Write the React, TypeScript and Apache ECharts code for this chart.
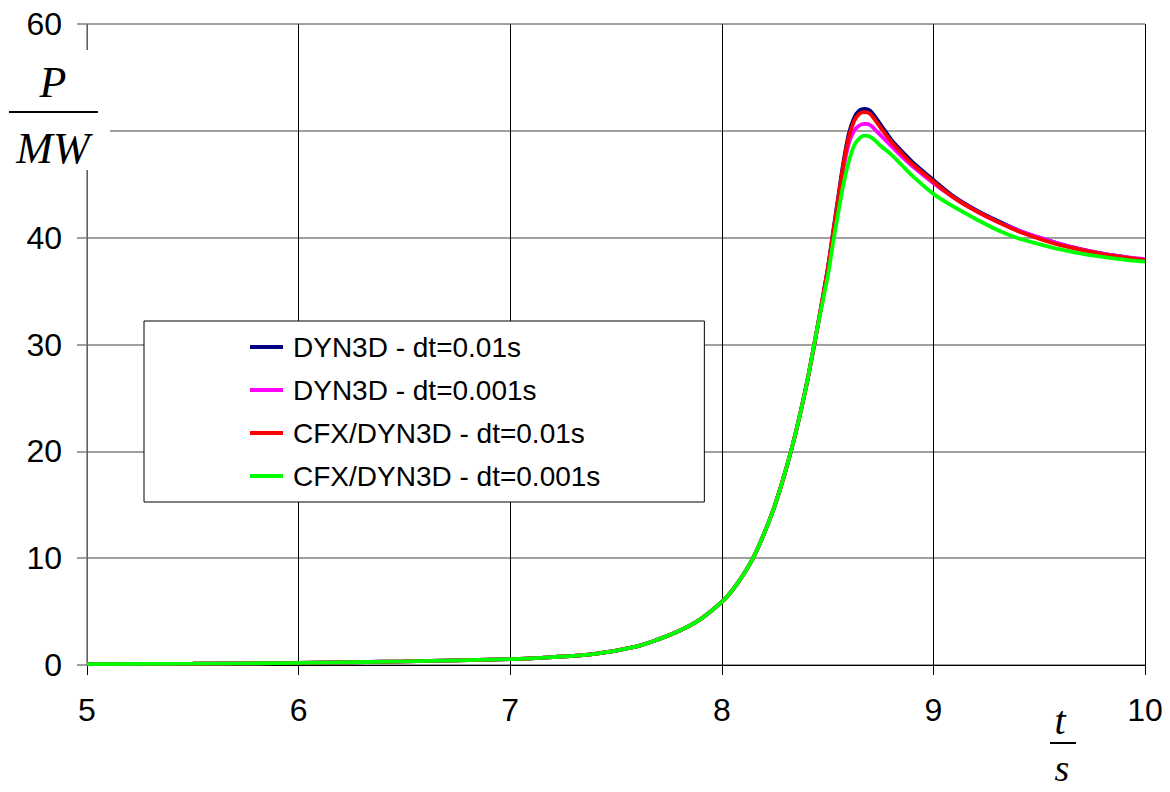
import React, { useEffect, useRef } from "react";
import * as echarts from "echarts";

const T = [5, 5.5, 6, 6.5, 7, 7.2, 7.4, 7.6, 7.7, 7.8, 7.9, 8, 8.05, 8.1, 8.15, 8.2, 8.25, 8.3, 8.35, 8.4, 8.45,
  8.5, 8.525, 8.55, 8.575, 8.6, 8.625, 8.65, 8.675, 8.7, 8.725, 8.75, 8.8, 8.85, 8.9, 9, 9.1, 9.2, 9.3, 9.4, 9.5, 9.6, 9.7, 9.8, 9.9, 10];

const BASE = [0.08, 0.12, 0.2, 0.33, 0.55, 0.74, 1.05, 1.75, 2.4, 3.2, 4.3, 5.9, 7.0, 8.4, 10.1, 12.3, 14.9, 18.1, 21.8, 26.2, 31.4];

const DYN_001 = [...BASE, 37.0, 40.4, 43.8, 47.1, 49.7, 51.2, 51.9, 52.05, 51.9, 51.3, 50.6, 49.2, 48.1, 47.1, 45.4, 43.8, 42.6, 41.6, 40.7, 40.0, 39.4, 38.9, 38.5, 38.2, 37.9];
const DYN_0001 = [...BASE, 37.0, 40.2, 43.4, 46.5, 48.8, 50.0, 50.5, 50.65, 50.55, 50.1, 49.6, 48.6, 47.6, 46.7, 45.1, 43.7, 42.5, 41.5, 40.7, 40.0, 39.4, 38.9, 38.5, 38.2, 38.0];
const CFX_001 = [...BASE, 37.0, 40.3, 43.6, 46.9, 49.4, 50.9, 51.6, 51.75, 51.6, 51.0, 50.3, 49.0, 47.9, 46.9, 45.25, 43.7, 42.5, 41.5, 40.6, 39.9, 39.3, 38.85, 38.45, 38.15, 37.9];
const CFX_0001 = [...BASE, 36.3, 39.4, 42.3, 45.0, 47.1, 48.6, 49.3, 49.55, 49.45, 49.1, 48.6, 47.8, 46.8, 45.8, 44.1, 42.85, 41.75, 40.75, 39.95, 39.4, 38.9, 38.5, 38.2, 37.95, 37.75];

const SERIES_NAMES = ["DYN3D - dt=0.01s", "DYN3D - dt=0.001s", "CFX/DYN3D - dt=0.01s", "CFX/DYN3D - dt=0.001s"];
const SERIES_VALUES = [DYN_001, DYN_0001, CFX_001, CFX_0001];
const SERIES_COLORS = ["#000080", "#ff00ff", "#ff0000", "#00ff00"];

export default function App() {
  const ref = useRef<HTMLDivElement>(null);
  useEffect(() => {
    if (!ref.current) return;
    const chart = echarts.init(ref.current, undefined, { renderer: "svg" });
    const font = "'Liberation Sans', Arial, sans-serif";
    const serif = "'Liberation Serif', 'Times New Roman', serif";
    chart.setOption({
      animation: false,
      backgroundColor: "#ffffff",
      grid: { left: 87, right: 25, top: 24, bottom: 127, containLabel: false },
      xAxis: {
        type: "value",
        min: 5,
        max: 10,
        interval: 1,
        axisLine: { show: true, lineStyle: { color: "#000", width: 1 } },
        axisTick: { show: true, inside: false, length: 10, lineStyle: { color: "#000" } },
        axisLabel: { color: "#000", fontSize: 32, fontFamily: font, margin: 29 },
        splitLine: { show: true, lineStyle: { color: "#000", width: 1 } },
      },
      yAxis: {
        type: "value",
        min: 0,
        max: 60,
        interval: 10,
        axisLine: { show: true, lineStyle: { color: "#808080", width: 1.5 } },
        axisTick: { show: true, inside: false, length: 10, lineStyle: { color: "#808080", width: 1.5 } },
        axisLabel: {
          color: "#000", fontSize: 32, fontFamily: font, margin: 25,
          formatter: (v: number) => (v === 50 ? "" : String(v)),
        },
        splitLine: { show: true, lineStyle: { color: "#808080", width: 1.5 } },
      },
      legend: {
        orient: "vertical",
        left: 144,
        top: 321,
        padding: [12, 104, 12, 106],
        backgroundColor: "#fff",
        borderColor: "#000",
        borderWidth: 1,
        icon: "rect",
        itemWidth: 33,
        itemHeight: 4,
        itemGap: 15,
        itemStyle: { borderWidth: 0 },
        textStyle: { color: "#000", fontSize: 28, fontFamily: font, padding: [0, 0, 0, 5] },
        data: SERIES_NAMES,
      },
      series: SERIES_NAMES.map((name, i) => ({
        name,
        type: "line",
        showSymbol: false,
        symbol: "none",
        smooth: 0.3,
        color: SERIES_COLORS[i],
        lineStyle: { color: SERIES_COLORS[i], width: 3.8 },
        data: T.map((t, j) => [t, SERIES_VALUES[i][j]]),
        z: 3 + i,
      })),
      graphic: [
        { type: "rect", left: 0, top: 50, shape: { x: 0, y: 0, width: 110, height: 120 }, style: { fill: "#fff" }, z: 100 },
        { type: "text", x: 53, y: 82, style: { text: "P", font: `italic 44px ${serif}`, fill: "#000", align: "center", verticalAlign: "middle" }, z: 101 },
        { type: "line", shape: { x1: 9, y1: 112, x2: 98, y2: 112 }, style: { stroke: "#000", lineWidth: 2 }, z: 101 },
        { type: "text", x: 53, y: 148, style: { text: "MW", font: `italic 44px ${serif}`, fill: "#000", align: "center", verticalAlign: "middle" }, z: 101 },
        { type: "text", x: 1060, y: 720, style: { text: "t", font: `italic 40px ${serif}`, fill: "#000", align: "center", verticalAlign: "middle" }, z: 101 },
        { type: "line", shape: { x1: 1050, y1: 743, x2: 1076, y2: 743 }, style: { stroke: "#000", lineWidth: 2 }, z: 101 },
        { type: "text", x: 1062, y: 768, style: { text: "s", font: `italic 38px ${serif}`, fill: "#000", align: "center", verticalAlign: "middle" }, z: 101 },
      ],
    });
    return () => chart.dispose();
  }, []);
  return <div ref={ref} style={{ position: "fixed", left: 0, top: 0, width: 1170, height: 792, background: "#fff" }} />;
}
